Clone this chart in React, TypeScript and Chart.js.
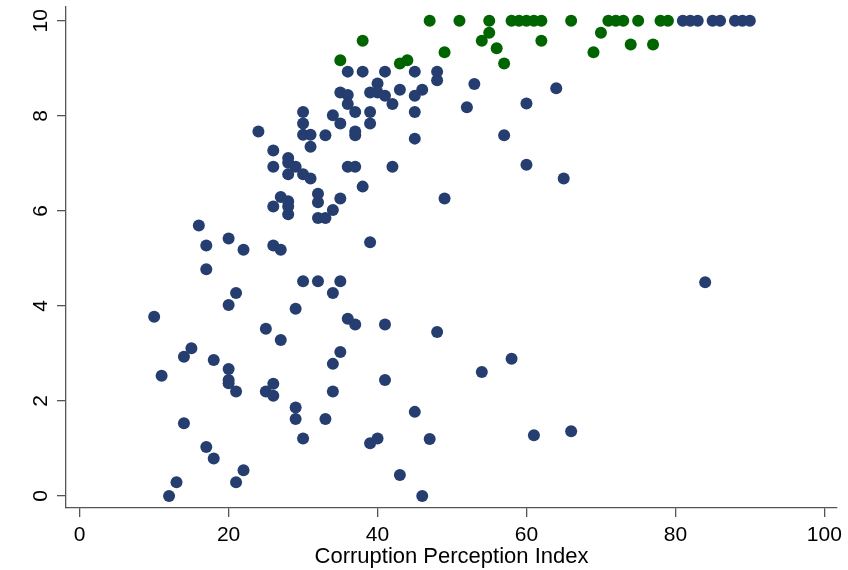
import React, { useEffect, useRef } from "react";
import { Chart, registerables } from "chart.js";

Chart.register(...registerables);

const X_TICKS = [0, 20, 40, 60, 80, 100];
const Y_TICKS = [0, 2, 4, 6, 8, 10];
const X_TITLE = "Corruption Perception Index";

// navy series (x = CPI, y = score)
const navyX = [
  24, 26, 26, 26, 26, 27, 27, 27, 28, 28, 28, 28, 28, 28, 29, 29, 29, 29,
  30, 30, 30, 30, 30, 30, 31, 31, 31, 32, 32, 32, 32, 33, 33, 33,
  34, 34, 34, 34, 34, 35, 35, 35, 35, 35, 36, 36, 36, 36, 36,
  37, 37, 37, 37, 37, 38, 38, 39, 39, 39, 39, 39, 40, 40, 40,
  41, 41, 41, 41, 42, 42, 43, 43, 45, 45, 45, 45, 45, 46, 46, 47,
  48, 48, 48, 49, 52, 53, 54, 57, 58, 60, 60, 61, 64, 65, 66, 84,
  81, 82, 83, 85, 86, 88, 89, 90,
  10, 11, 12, 13, 14, 14, 15, 16, 17, 17, 17, 18, 18, 20, 20, 20, 20, 20,
  21, 21, 21, 22, 22, 25, 25, 26, 26,
];
const navyY = [
  7.67, 7.27, 6.93, 6.09, 5.27, 6.29, 5.18, 3.28, 7.11, 7.01, 6.77, 6.2, 6.09, 5.93, 6.93, 3.94, 1.86, 1.62,
  8.08, 7.84, 7.6, 6.77, 4.52, 1.21, 7.6, 7.35, 6.68, 6.36, 6.18, 5.85, 4.52, 7.59, 5.85, 1.62,
  8.01, 6.02, 4.27, 2.78, 2.2, 8.49, 7.84, 6.26, 4.52, 3.03, 8.93, 8.44, 8.25, 6.93, 3.73,
  8.08, 7.67, 7.59, 6.93, 3.61, 8.93, 6.51, 8.49, 8.08, 7.84, 5.34, 1.11, 8.68, 8.49, 1.21,
  8.93, 8.42, 3.61, 2.44, 8.25, 6.93, 8.55, 0.44, 8.93, 8.42, 8.08, 7.52, 1.77, 8.55, 0, 1.2,
  8.93, 8.75, 3.45, 6.26, 8.18, 8.67, 2.61, 7.59, 2.89, 8.26, 6.97, 1.28, 8.58, 6.68, 1.36, 4.5,
  10, 10, 10, 10, 10, 10, 10, 10,
  3.77, 2.53, 0, 0.29, 2.93, 1.53, 3.11, 5.69, 5.27, 4.77, 1.03, 2.86, 0.79, 5.42, 4.02, 2.67, 2.44, 2.37,
  4.27, 2.2, 0.29, 5.18, 0.54, 3.52, 2.2, 2.36, 2.11,
];

// green series
const greenX = [
  35, 38, 43, 44, 47, 49, 51, 54, 55, 55, 56, 57, 58, 59, 60, 61, 62, 62,
  66, 69, 70, 71, 72, 73, 74, 75, 77, 78, 79,
];
const greenY = [
  9.17, 9.58, 9.1, 9.17, 10, 9.34, 10, 9.58, 10, 9.75, 9.42, 9.1, 10, 10, 10, 10, 10, 9.58,
  10, 9.34, 9.75, 10, 10, 10, 9.5, 10, 9.5, 10, 10,
];

const NAVY = "#253e6f";
const GREEN = "#006400";
const AXIS = "#555555";
const FONT = "'Liberation Sans', Arial, Helvetica, sans-serif";

export default function App() {
  const ref = useRef<HTMLCanvasElement | null>(null);

  useEffect(() => {
    const canvas = ref.current;
    if (!canvas) return;

    const yLabels = {
      id: "yLabels",
      afterDraw(chart: any) {
        const ctx = chart.ctx;
        const ys = chart.scales.y;
        ctx.save();
        ctx.fillStyle = "#000";
        ctx.font = `21px ${FONT}`;
        ctx.textAlign = "center";
        ctx.textBaseline = "middle";
        for (const t of ys.ticks) {
          const py = ys.getPixelForValue(t.value);
          ctx.save();
          ctx.translate(41, py);
          ctx.rotate(-Math.PI / 2);
          ctx.fillText(String(t.value), 0, 0);
          ctx.restore();
        }
        ctx.restore();
      },
    };

    const chart = new Chart(canvas, {
      type: "scatter",
      data: {
        datasets: [
          {
            label: "navy",
            data: navyX.map((x, i) => ({ x, y: navyY[i] })),
            backgroundColor: NAVY,
            borderColor: NAVY,
            borderWidth: 0,
            pointRadius: 6,
            pointHoverRadius: 6,
            clip: false as any,
          },
          {
            label: "green",
            data: greenX.map((x, i) => ({ x, y: greenY[i] })),
            backgroundColor: GREEN,
            borderColor: GREEN,
            borderWidth: 0,
            pointRadius: 6,
            pointHoverRadius: 6,
            clip: false as any,
          },
        ],
      },
      options: {
        animation: false,
        responsive: false,
        events: [],
        layout: { padding: { left: 0, right: 10, top: 7, bottom: 0 } },
        plugins: {
          legend: { display: false },
          tooltip: { enabled: false },
          title: { display: false },
        },
        scales: {
          x: {
            type: "linear",
            min: -1.84,
            max: 101.7,
            afterBuildTicks: (s: any) => {
              s.ticks = X_TICKS.map((v) => ({ value: v }));
            },
            afterFit: (s: any) => {
              s.height = 62;
            },
            grid: {
              display: true,
              drawOnChartArea: false,
              drawTicks: true,
              tickLength: 9,
              color: AXIS,
              lineWidth: 1.3,
            },
            border: { display: true, color: AXIS, width: 1.3 },
            ticks: {
              color: "#000",
              font: { family: FONT, size: 21 },
              padding: 6,
              maxRotation: 0,
              minRotation: 0,
            },
            title: {
              display: true,
              text: X_TITLE,
              color: "#000",
              font: { family: FONT, size: 22 },
              padding: { top: 1, bottom: 0 },
            },
          },
          y: {
            type: "linear",
            min: -0.253,
            max: 10.29,
            afterBuildTicks: (s: any) => {
              s.ticks = Y_TICKS.map((v) => ({ value: v }));
            },
            afterFit: (s: any) => {
              s.width = 66;
            },
            grid: {
              display: true,
              drawOnChartArea: false,
              drawTicks: true,
              tickLength: 9,
              color: AXIS,
              lineWidth: 1.3,
            },
            border: { display: true, color: AXIS, width: 1.3 },
            ticks: {
              display: false,
            },
          },
        },
      },
      plugins: [yLabels],
    });

    return () => {
      chart.destroy();
    };
  }, []);

  return (
    <div style={{ position: "absolute", left: 0, top: 0, width: 848, height: 570, background: "#fff" }}>
      <canvas ref={ref} width={848} height={570} style={{ display: "block", width: 848, height: 570 }} />
    </div>
  );
}
